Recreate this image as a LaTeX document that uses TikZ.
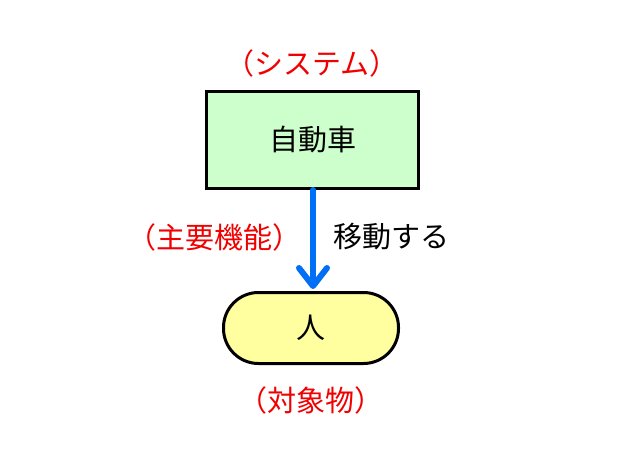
\documentclass[tikz,border=0pt]{standalone}
\usepackage{fontspec}
\setmainfont{Noto Sans CJK JP}
\usetikzlibrary{arrows.meta}

\definecolor{boxgreen}{RGB}{204,255,204}
\definecolor{boxyellow}{RGB}{255,255,160}
\definecolor{arrowblue}{RGB}{0,110,245}
\definecolor{labelred}{RGB}{240,0,0}

\tikzset{
  jpfont/.style={font=\fontsize{29}{33}\selectfont},
  sysbox/.style={draw, line width=3pt, fill=boxgreen, minimum width=212pt, minimum height=97pt, jpfont},
  objbox/.style={draw, line width=3pt, fill=boxyellow, rounded corners=35pt, minimum width=175pt, minimum height=71pt, jpfont},
  redlabel/.style={text=labelred, inner sep=0pt, jpfont},
  funcarrow/.style={draw=arrowblue, line width=6pt, line cap=round, -{Straight Barb[length=18pt, width=28pt, round]}},
}

\begin{document}
\begin{tikzpicture}[x=1pt, y=-1pt]
			\useasboundingbox (0,0) rectangle (620,465);
			
			\node[sysbox] (car) at (312.5,140) {自動車};
			\node[objbox] (person) at (311,328) {人};
			
			\node[redlabel] (system) at (312,63) {（システム）};
			\node[redlabel] (object) at (311,400) {（対象物）};
			
			\draw[funcarrow] (car.south -| 313,0) -- (313,289) coordinate (tip);
			
			\node[redlabel] (mainfunc) at (214,237) {（主要機能）};
			\node[anchor=west, inner sep=0pt, jpfont] (move) at (333,237) {移動する};
		\end{tikzpicture}
\end{document}
